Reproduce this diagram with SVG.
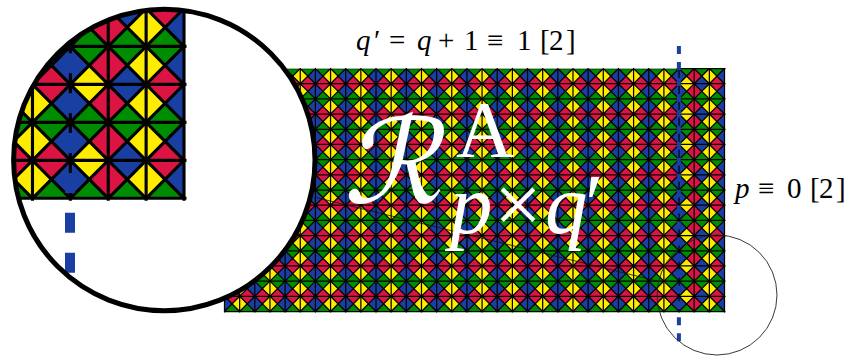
<svg xmlns="http://www.w3.org/2000/svg" width="847" height="356" viewBox="0 0 847 356">
<style>
.g{fill:#008c00}.r{fill:#dc1444}.b{fill:#1a3fa3}.y{fill:#ffed00}
.k{fill:none;stroke:#000;stroke-width:1.25}
.m{font-family:"Liberation Serif",serif;font-size:29px;fill:#000}
.i{font-style:italic}
.w{font-family:"Liberation Serif",serif;fill:#fff}
</style>
<defs>
<clipPath id="gc"><rect x="0" y="0" width="500" height="243"/></clipPath>
<clipPath id="big"><circle cx="164.3" cy="160" r="150.7"/></clipPath>
<clipPath id="topclip"><rect x="-1" y="-1" width="455" height="1.4"/></clipPath>
<polygon id="vd" points="0,0 7.576,7.594 0,15.1875 -7.576,7.594"/>
<polygon id="hd" points="0,0 7.576,-7.594 15.1515,0 7.576,7.594"/>
<g id="v2"><use href="#vd"/><use href="#vd" y="15.1875"/></g>
<g id="v4"><use href="#v2"/><use href="#v2" y="30.375"/></g>
<g id="v8"><use href="#v4"/><use href="#v4" y="60.75"/></g>
<g id="vc"><use href="#v8"/><use href="#v8" y="121.5"/></g>
<g id="e2"><use href="#hd"/><use href="#hd" y="30.375"/></g>
<g id="e4"><use href="#e2"/><use href="#e2" y="60.75"/></g>
<g id="e8"><use href="#e4"/><use href="#e4" y="121.5"/></g>
<g id="gcol"><use href="#e8"/><use href="#hd" y="243"/></g>
<g id="odd"><use href="#e8" y="15.1875"/></g>
<g id="gc2"><use href="#gcol"/><use href="#gcol" x="15.1515"/></g>
<g id="gc4"><use href="#gc2"/><use href="#gc2" x="30.303"/></g>
<g id="gc8"><use href="#gc4"/><use href="#gc4" x="60.606"/></g>
<g id="gc16"><use href="#gc8"/><use href="#gc8" x="121.212"/></g>
<g id="gc32"><use href="#gc16"/><use href="#gc16" x="242.424"/></g>
<g id="r2"><use href="#odd"/><use href="#odd" x="15.1515"/></g>
<g id="r4"><use href="#r2"/><use href="#r2" x="30.303"/></g>
<g id="r8"><use href="#r4"/><use href="#r4" x="60.606"/></g>
<g id="r16"><use href="#r8"/><use href="#r8" x="121.212"/></g>
<g id="p1"><use href="#vc" class="b"/><use href="#vc" class="y" x="15.1515"/></g>
<g id="p2"><use href="#p1"/><use href="#p1" x="30.303"/></g>
<g id="p4"><use href="#p2"/><use href="#p2" x="60.606"/></g>
<g id="p8"><use href="#p4"/><use href="#p4" x="121.212"/></g>
<path id="vl" d="M0-.6V244"/>
<g id="vl2"><use href="#vl"/><use href="#vl" x="15.1515"/></g>
<g id="vl4"><use href="#vl2"/><use href="#vl2" x="30.303"/></g>
<g id="vl8"><use href="#vl4"/><use href="#vl4" x="60.606"/></g>
<g id="vl16"><use href="#vl8"/><use href="#vl8" x="121.212"/></g>
<g id="vlines"><use href="#vl16"/><use href="#vl16" x="242.424"/><use href="#vl2" x="484.848"/></g>
<path id="hl" d="M0 0H501"/>
<g id="hl2"><use href="#hl"/><use href="#hl" y="15.1875"/></g>
<g id="hl4"><use href="#hl2"/><use href="#hl2" y="30.375"/></g>
<g id="hl8"><use href="#hl4"/><use href="#hl4" y="60.75"/></g>
<path id="x" d="M0 0L15.1515 15.1875M15.1515 0L0 15.1875"/>
<g id="x2"><use href="#x"/><use href="#x" y="15.1875"/></g>
<g id="x4"><use href="#x2"/><use href="#x2" y="30.375"/></g>
<g id="x8"><use href="#x4"/><use href="#x4" y="60.75"/></g>
<g id="xc"><use href="#x8"/><use href="#x8" y="121.5"/></g>
<g id="xc2"><use href="#xc"/><use href="#xc" x="15.1515"/></g>
<g id="xc4"><use href="#xc2"/><use href="#xc2" x="30.303"/></g>
<g id="xc8"><use href="#xc4"/><use href="#xc4" x="60.606"/></g>
<g id="xc16"><use href="#xc8"/><use href="#xc8" x="121.212"/></g>
<g id="grid">
<g clip-path="url(#gc)">
<use href="#gc32" class="g"/><use href="#gcol" class="g" x="484.848"/>
<g class="r"><use href="#r16"/><use href="#r8" x="242.424"/><use href="#r4" x="363.636"/><use href="#r2" x="424.242"/></g>
<use href="#odd" class="y" x="454.545"/><use href="#odd" class="b" x="469.697"/><use href="#odd" class="r" x="484.848"/>
<use href="#p8"/><use href="#p4" x="242.424"/><use href="#p2" x="363.636"/><use href="#p1" x="424.242"/>
<use href="#vc" class="b" x="454.545"/><use href="#vc" class="r" x="469.697"/><use href="#vc" class="y" x="484.848"/><use href="#vc" class="b" x="500"/>
</g>
<g class="k">
<use href="#xc16"/><use href="#xc16" x="242.424"/><use href="#xc" x="484.848"/>
<use href="#vlines"/>
<use href="#hl8"/><use href="#hl8" y="121.5"/><use href="#hl" y="243"/>
</g>
<path d="M454.4-22.5V273" fill="none" stroke="#1a3fa3" stroke-width="4" stroke-dasharray="8 7.96"/>
</g>
</defs>

<g id="main-grid" transform="translate(224.5 68.5)">
<use href="#grid"/>
<path d="M0 0H452" fill="none" stroke="#b0b0b0" stroke-width="1"/>
<g class="k" clip-path="url(#topclip)"><use href="#vlines"/></g>
</g>

<g id="connectors">
<path d="M316 197.5L657 281" fill="none" stroke="#111" stroke-width=".8"/>
</g>

<g id="small-circle"><circle cx="717" cy="295" r="60" fill="none" stroke="#222" stroke-width=".9"/></g>

<g id="magnifier">
<circle cx="164.3" cy="160" r="150.7" fill="#fff"/>
<g clip-path="url(#big)"><use href="#grid" transform="translate(-1066 -409.2) scale(2.5)"/></g>
<circle cx="164.3" cy="160" r="150.7" fill="none" stroke="#000" stroke-width="5"/>
</g>

<g id="label-q">
<text class="m" y="50"><tspan class="i" x="356">q</tspan><tspan x="374">′</tspan> <tspan x="389">=</tspan> <tspan class="i" x="417">q</tspan> <tspan x="438">+</tspan> <tspan x="464">1</tspan> <tspan x="487">≡</tspan> <tspan x="517">1</tspan> <tspan x="540">[</tspan><tspan x="549">2</tspan><tspan x="566">]</tspan></text>
</g>
<g id="label-p">
<text class="m" y="197.7"><tspan class="i" x="735">p</tspan> <tspan x="758">≡</tspan> <tspan x="787">0</tspan> <tspan x="810">[</tspan><tspan x="819">2</tspan><tspan x="836">]</tspan></text>
</g>
<g id="label-r">
<text transform="translate(343 203) skewX(-12) scale(1.05 1)" style="font-family:'DejaVu Serif','DejaVu Sans',serif;font-size:118px;fill:#fff">ℛ</text>
<text class="w" x="456" y="157" style="font-size:80px">A</text>
<text class="w" y="233" style="font-size:85px"><tspan class="i" x="450">p</tspan><tspan x="494">×</tspan><tspan class="i" x="545">q</tspan><tspan x="585">′</tspan></text>
</g>
</svg>
